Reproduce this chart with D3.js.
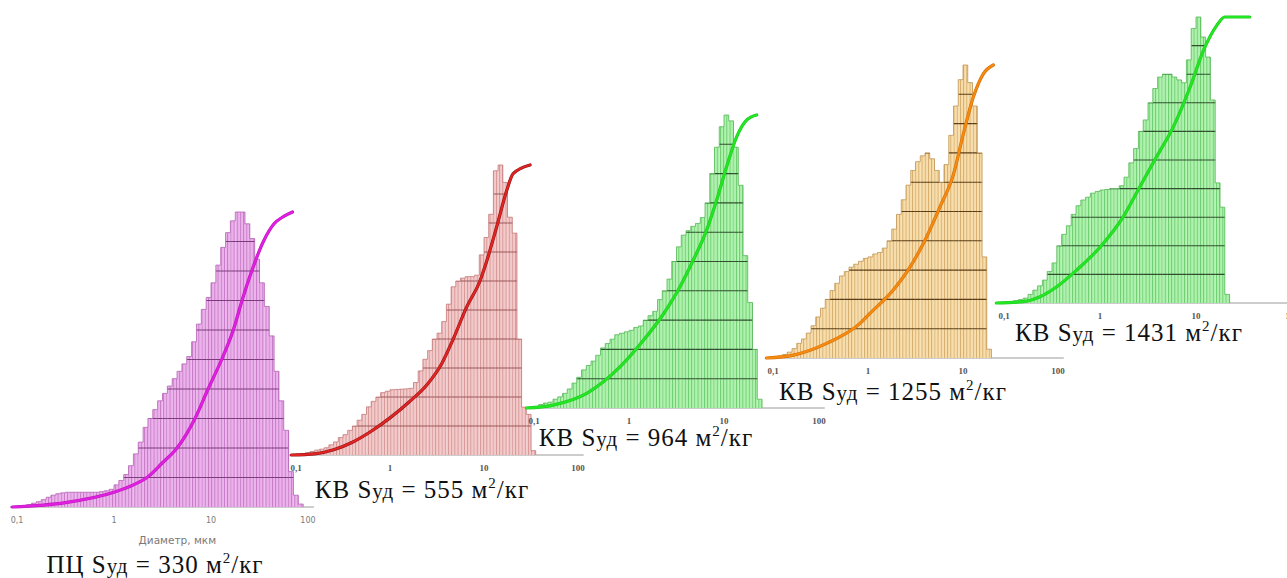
<!DOCTYPE html>
<html>
<head>
<meta charset="utf-8">
<script src="https://cdn.jsdelivr.net/npm/d3@7"></script>
<style>
  body { margin: 0; background: #fff; }
  .serif { font-family: "Liberation Serif", "DejaVu Serif", "Times New Roman", serif; }
  .sans { font-family: "DejaVu Sans", "Noto Sans", sans-serif; }
</style>
</head>
<body>
<div id="chart"></div>
<script>
// bins: log10(d, мкм) from -1, step 0.05
const binStart = -1;
const binStep = 0.05;

const tickValues = [0.1, 1, 10, 100];
const tickLabels = ["0,1", "1", "10", "100"];
const gridUnits = [1, 2, 3, 4, 5, 6, 7, 8, 9];

const sampleNames = ["ПЦ", "КВ", "КВ", "КВ", "КВ"];
const surfaceAreas = [330, 555, 964, 1255, 1431];

// histogram heights (0..10 of plot height)
const histPC330 = [0.02,0.04,0.08,0.13,0.18,0.25,0.33,0.40,0.45,0.48,
  0.5,0.5,0.5,0.5,0.5,0.5,0.5,0.52,0.55,0.6,
  0.75,0.9,1.1,1.4,1.8,2.2,2.7,3.0,3.3,3.6,
  3.85,4.1,4.35,4.6,4.85,5.1,5.6,6.2,6.7,7.1,
  7.6,8.2,8.8,9.3,9.7,10.0,10.0,9.6,9.1,8.4,
  7.6,6.8,5.8,4.6,3.6,2.6,1.2,0.4,0.1];
const histKV555 = [0.03,0.05,0.08,0.12,0.17,0.2,0.25,0.35,0.45,0.6,
  0.7,0.85,1.0,1.2,1.4,1.66,1.85,2.0,2.15,2.2,
  2.25,2.26,2.27,2.28,2.3,2.5,2.9,3.3,3.6,4.0,
  4.2,4.6,5.2,5.8,6.0,6.1,6.15,6.15,6.2,6.9,
  7.5,8.3,9.8,10.0,9.4,8.2,7.65,4.0,1.65,1.4,0.15];
const histKV964 = [0.05,0.12,0.17,0.2,0.3,0.38,0.5,0.65,0.85,1.05,
  1.3,1.45,1.6,1.8,2.05,2.2,2.35,2.5,2.55,2.6,
  2.65,2.75,2.8,3.0,3.15,3.3,3.7,4.0,4.4,5.0,
  5.5,5.9,6.05,6.2,6.3,6.5,7.0,8.0,8.9,9.6,
  10.0,9.8,8.9,7.6,5.2,3.6,2.0,0.3];
const histKV1255 = [0.04,0.07,0.12,0.2,0.32,0.5,0.65,0.85,1.1,1.4,
  1.7,2.0,2.3,2.55,2.8,2.95,3.1,3.2,3.3,3.4,
  3.45,3.55,3.6,3.75,4.0,4.4,4.9,5.4,5.9,6.4,
  6.7,6.9,7.0,6.8,6.4,6.0,6.6,7.6,8.6,9.5,
  10.0,9.4,8.6,7.0,3.45,0.3];
const histKV1431 = [0.03,0.05,0.08,0.12,0.17,0.3,0.45,0.6,0.8,1.1,
  1.4,2.0,2.4,2.7,3.1,3.4,3.6,3.7,3.84,3.9,
  3.95,3.97,4.0,4.0,4.1,4.4,4.9,5.4,6.0,6.4,
  7.0,7.5,7.9,8.0,8.0,7.9,7.8,7.7,8.5,9.6,
  10.0,9.3,8.6,7.1,4.2,3.35,0.3];

// cumulative curve: [log10(d, мкм), %]
const cumPC330 = [[-1.05,0],[-0.5,1.5],[0,5],[0.2,7.5],[0.34,10],[0.5,15],[0.65,20],[0.835,30],
  [0.97,40],[1.11,50],[1.23,60],[1.32,70],[1.42,80],[1.54,90],[1.65,96],[1.75,98.5],[1.84,100]];
const cumKV555 = [[-1.05,0],[-0.8,0.4],[-0.6,1.8],[-0.4,4.4],[-0.2,8.2],[0,12.8],[0.2,18.2],
  [0.4,24.5],[0.55,31.5],[0.67,39.8],[0.815,51],[0.957,60],[1.03,67],[1.135,78.7],[1.24,91],[1.31,97],[1.49,100]];
const cumKV964 = [[-1.08,0],[-0.8,1],[-0.445,5],[-0.095,14],[0.15,23],[0.36,32],[0.537,41.4],
  [0.677,50.5],[0.818,60.8],[0.923,71],[1.028,82.4],[1.134,92.6],[1.24,98.3],[1.344,100]];
const cumKV1255 = [[-1.07,0],[-0.786,1],[-0.435,5],[-0.084,11.8],[0.02,15.2],[0.266,23.2],[0.442,31],
  [0.618,41.4],[0.758,51.6],[0.898,62.5],[1.0,76],[1.108,89],[1.214,97],[1.319,100]];
const cumKV1431 = [[-1.08,0],[-0.8,0.5],[-0.625,2.2],[-0.45,5.7],[-0.243,11.5],[0,19.5],[0.243,30.2],
  [0.417,40.7],[0.59,51.2],[0.764,61.6],[0.94,75.6],[1.08,88.5],[1.215,97],[1.3,100],[1.56,100]];

const hists = [histPC330, histKV555, histKV964, histKV1255, histKV1431];
const cums = [cumPC330, cumKV555, cumKV964, cumKV1255, cumKV1431];

// layout / styling of each panel
const panels = [
  {x0: 17, dec: 97, base: 507, unit: 29.5, capX: 155, capY: 573,
   fill: "#ecb2ec", stripe: "#c678c6", edge: "#b463b4", grid: "#7a3c7a", curve: "#e01fe0", curveEdge: "#b818b8"},
  {x0: 296, dec: 94, base: 455, unit: 29.0, capX: 422, capY: 498,
   fill: "#f3caca", stripe: "#d69494", edge: "#c47878", grid: "#9a5656", curve: "#e02424", curveEdge: "#8a1414"},
  {x0: 534, dec: 95, base: 408, unit: 29.3, capX: 646, capY: 446,
   fill: "#aef2ae", stripe: "#6ccb6c", edge: "#58b858", grid: "#2e4e2e", curve: "#22e622", curveEdge: "#22c822"},
  {x0: 773, dec: 95, base: 358, unit: 29.3, capX: 893, capY: 400,
   fill: "#f8deab", stripe: "#d4ab6a", edge: "#c29654", grid: "#5a3c16", curve: "#f58a12", curveEdge: "#d46c00"},
  {x0: 1004, dec: 96, base: 303, unit: 28.6, capX: 1129, capY: 341,
   fill: "#aef2ae", stripe: "#6ccb6c", edge: "#58b858", grid: "#2e4e2e", curve: "#22e622", curveEdge: "#22c822"}
];

const width = 1287, height = 578;
const svg = d3.select("#chart").append("svg")
  .attr("width", width)
  .attr("height", height);
const defs = svg.append("defs");

panels.forEach((p, i) => {
  const values = hists[i];
  const x = d3.scaleLog().domain([0.1, 100]).range([p.x0, p.x0 + 3 * p.dec]);
  const y = d3.scaleLinear().domain([0, 10]).range([p.base, p.base - 10 * p.unit]);
  const yc = d3.scaleLinear().domain([0, 100]).range([p.base, p.base - 10 * p.unit]);

  const bins = values.map((v, k) => ({
    lo: Math.pow(10, binStart + k * binStep),
    hi: Math.pow(10, binStart + (k + 1) * binStep),
    v: v
  }));

  // stripe fill
  const pat = defs.append("pattern")
    .attr("id", "stripe" + i)
    .attr("patternUnits", "userSpaceOnUse")
    .attr("width", 3.2).attr("height", 10);
  pat.append("rect").attr("width", 3.2).attr("height", 10).attr("fill", p.fill);
  pat.append("rect").attr("x", 0).attr("width", 0.9).attr("height", 10).attr("fill", p.stripe);

  const clip = defs.append("clipPath").attr("id", "clip" + i);
  clip.selectAll("rect").data(bins).enter().append("rect")
    .attr("x", d => x(d.lo))
    .attr("width", d => x(d.hi) - x(d.lo) + 0.2)
    .attr("y", d => y(d.v))
    .attr("height", d => y(0) - y(d.v));

  const g = svg.append("g").attr("class", "panel");

  // axis line
  g.append("line")
    .attr("x1", x(0.085)).attr("x2", x(115))
    .attr("y1", p.base).attr("y2", p.base)
    .attr("stroke", "#9a9a9a").attr("stroke-width", 1);

  g.append("g").selectAll("rect").data(bins).enter().append("rect")
    .attr("x", d => x(d.lo))
    .attr("width", d => x(d.hi) - x(d.lo) + 0.2)
    .attr("y", d => y(d.v))
    .attr("height", d => y(0) - y(d.v))
    .attr("fill", "url(#stripe" + i + ")");

  // grid lines inside bars
  g.append("g").attr("clip-path", "url(#clip" + i + ")")
    .selectAll("line").data(gridUnits).enter().append("line")
    .attr("x1", x(0.1)).attr("x2", x(100))
    .attr("y1", d => y(d)).attr("y2", d => y(d))
    .attr("stroke", p.grid).attr("stroke-width", 1.1);

  // step outline
  const outlinePts = [[bins[0].lo, 0]];
  bins.forEach(d => { outlinePts.push([d.lo, d.v]); outlinePts.push([d.hi, d.v]); });
  outlinePts.push([bins[bins.length - 1].hi, 0]);
  g.append("path")
    .attr("d", d3.line().x(d => x(d[0])).y(d => y(d[1]))(outlinePts))
    .attr("fill", "none").attr("stroke", p.edge).attr("stroke-width", 0.8);

  // cumulative curve
  const curveLine = d3.line()
    .x(d => x(Math.pow(10, d[0])))
    .y(d => yc(d[1]))
    .curve(d3.curveMonotoneX);
  g.append("path").attr("d", curveLine(cums[i]))
    .attr("fill", "none").attr("stroke", p.curveEdge).attr("stroke-width", 3.2)
    .attr("stroke-linecap", "round");
  g.append("path").attr("d", curveLine(cums[i]))
    .attr("fill", "none").attr("stroke", p.curve).attr("stroke-width", 2.2)
    .attr("stroke-linecap", "round");

  // tick labels
  g.append("g").selectAll("text").data(tickValues).enter().append("text")
    .attr("class", i === 0 ? "sans" : "serif")
    .attr("x", d => x(d))
    .attr("y", p.base + 16)
    .attr("text-anchor", "middle")
    .attr("font-size", i === 0 ? 8 : 9)
    .attr("font-weight", i === 0 ? "normal" : "bold")
    .attr("fill", i === 0 ? "#7a7a7a" : "#555")
    .text((d, k) => tickLabels[k]);

  if (i === 0) {
    g.append("text")
      .attr("class", "sans")
      .attr("x", x(4.5)).attr("y", p.base + 37)
      .attr("text-anchor", "middle")
      .attr("font-size", 10.5)
      .attr("fill", "#7a7a7a")
      .text("Диаметр, мкм");
  }

  // caption
  const cap = g.append("text")
    .attr("class", "serif")
    .attr("x", p.capX).attr("y", p.capY)
    .attr("text-anchor", "middle")
    .attr("font-size", 25)
    .attr("letter-spacing", 1)
    .attr("fill", "#111");
  cap.append("tspan").text(sampleNames[i] + " S");
  cap.append("tspan").attr("font-size", 21).text("уд");
  cap.append("tspan").text(" = " + surfaceAreas[i] + " м");
  cap.append("tspan").attr("font-size", 15).attr("dy", -10).text("2");
  cap.append("tspan").attr("dy", 10).text("/кг");
});
</script>
</body>
</html>
